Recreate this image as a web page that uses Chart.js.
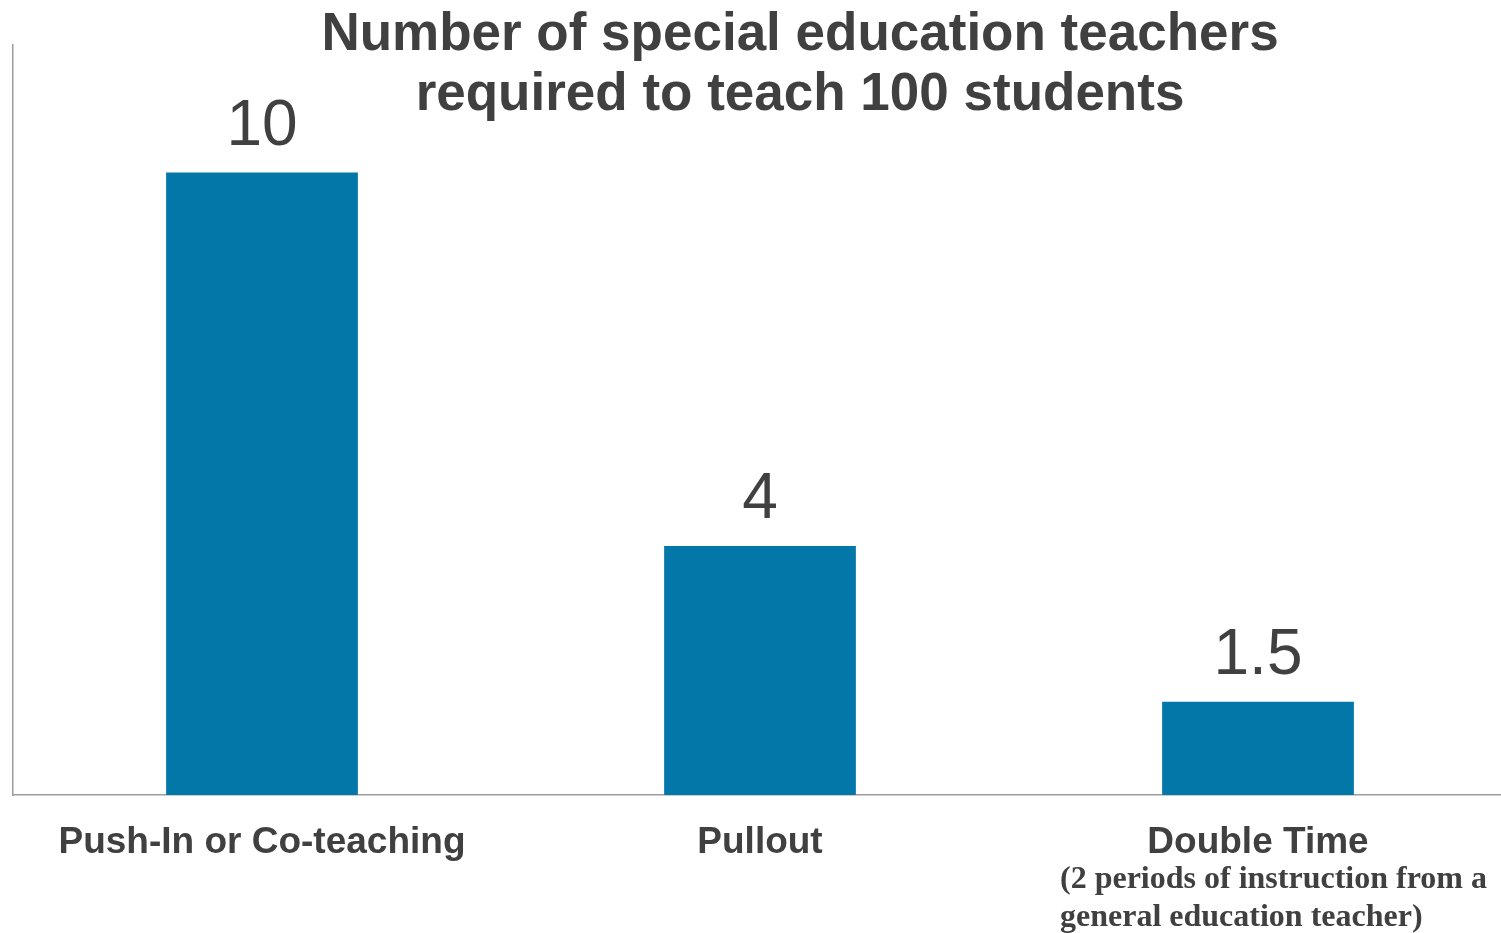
<!DOCTYPE html>
<html>
<head>
<meta charset="utf-8">
<script src="https://cdn.jsdelivr.net/npm/chart.js@4.4.1/dist/chart.umd.min.js"></script>
<style>
    html, body { margin: 0; padding: 0; background: #ffffff; overflow: hidden; }
    /* a little wider than the window: the reference plot runs off the right edge */
    #wrap { position: relative; width: 1507px; height: 933px; }
</style>
</head>
<body>
<div id="wrap"><canvas id="teachers"></canvas></div>
<script>
const categories = ['Push-In or Co-teaching', 'Pullout', 'Double Time']
const teacherCounts = [10, 4, 1.5]
const titleLines = ['Number of special education teachers', 'required to teach 100 students']
const doubleTimeNote = ['(2 periods of instruction from a', 'general education teacher)']

const textColor = '#404040'
const barColor = '#0377a8'
const axisColor = '#9c9c9c'
const sans = "'Liberation Sans', Arial, sans-serif"
const serif = "'Liberation Serif', 'Times New Roman', serif"

Chart.defaults.font.family = sans
Chart.defaults.color = textColor

// title sits over the plot, so it is drawn by hand rather than with the title plugin
const titlePlugin = {
    id: 'overlayTitle',
    afterDraw(chart) {
        const ctx = chart.ctx
        ctx.save()
        ctx.font = 'bold 53px ' + sans
        ctx.fillStyle = textColor
        ctx.textAlign = 'center'
        ctx.textBaseline = 'alphabetic'
        titleLines.forEach((line, i) => ctx.fillText(line, 800, 50 + i * 60))
        ctx.restore()
    }
}

// value labels above bars + the note under "Double Time"
const labelsPlugin = {
    id: 'valueLabels',
    afterDatasetsDraw(chart) {
        const ctx = chart.ctx
        const meta = chart.getDatasetMeta(0)
        ctx.save()
        ctx.font = '64px ' + sans
        ctx.fillStyle = textColor
        ctx.textAlign = 'center'
        ctx.textBaseline = 'alphabetic'
        meta.data.forEach((bar, i) => {
            ctx.fillText(String(teacherCounts[i]), bar.x, bar.y - 28)
        })

        const xScale = chart.scales.x
        const left = xScale.getPixelForTick(2) - 198
        ctx.font = 'bold 32px ' + serif
        ctx.textAlign = 'left'
        doubleTimeNote.forEach((line, i) => ctx.fillText(line, left, 888 + i * 38))
        ctx.restore()
    }
}

new Chart(document.getElementById('teachers'), {
    type: 'bar',
    data: {
        labels: categories,
        datasets: [{
            data: teacherCounts,
            backgroundColor: barColor,
            borderWidth: 0,
            barPercentage: 0.385,
            categoryPercentage: 1
        }]
    },
    options: {
        responsive: true,
        maintainAspectRatio: false,
        animation: false,
        layout: { padding: { left: 13, top: 45, right: 0, bottom: 0 } },
        plugins: {
            legend: { display: false },
            tooltip: { enabled: false }
        },
        scales: {
            x: {
                grid: { display: false, drawTicks: false },
                border: { display: true, color: axisColor, width: 1.5 },
                ticks: {
                    padding: 26,
                    color: textColor,
                    font: { size: 37, weight: 'bold' },
                    maxRotation: 0,
                    autoSkip: false
                },
                afterFit(scale) { scale.height = 138 }
            },
            y: {
                min: 0,
                max: 12.05,
                grid: { display: false, drawTicks: false },
                border: { display: true, color: axisColor, width: 1.5 },
                ticks: { display: false }
            }
        }
    },
    plugins: [titlePlugin, labelsPlugin]
});
</script>
</body>
</html>
